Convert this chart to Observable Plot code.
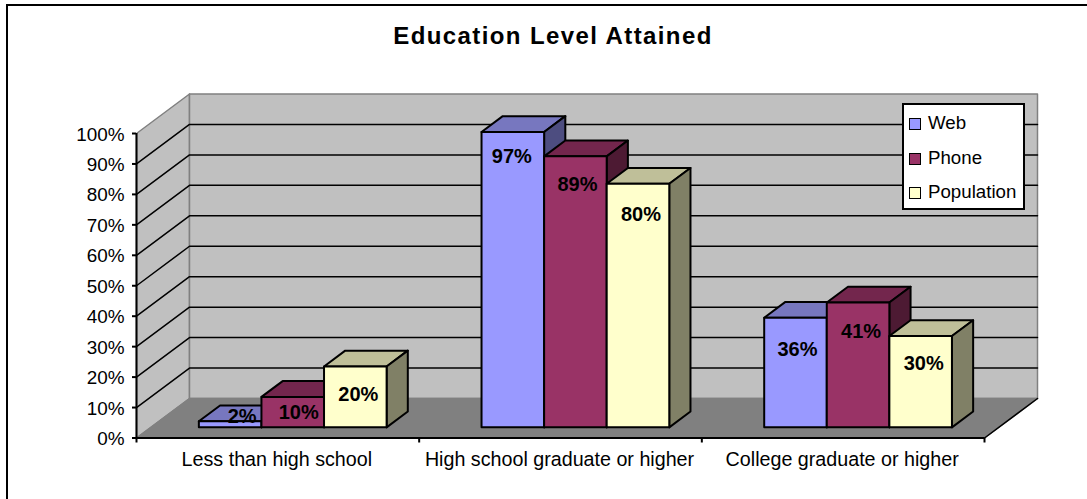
<!DOCTYPE html>
<html>
<head>
<meta charset="utf-8">
<script src="https://cdn.jsdelivr.net/npm/d3@7"></script>
<script src="https://cdn.jsdelivr.net/npm/@observablehq/plot@0.6"></script>
<style>
  html, body { margin: 0; padding: 0; background: #fff; }
  #page { position: relative; width: 1087px; height: 499px; overflow: hidden; font-family: "Liberation Sans", Arial, sans-serif; color: #000; }
  #page svg { position: absolute; left: 0; top: 0; }
  #border { position: absolute; left: 6px; top: 4px; right: 0; bottom: 0; border-left: 2px solid #000; border-top: 2px solid #000; pointer-events: none; z-index: 2; }
  #title { position: absolute; left: 6px; width: 1094px; top: 22px; text-align: center; font-weight: bold; font-size: 24px; line-height: 28px; letter-spacing: 1.4px; z-index: 2; }
  #legend { position: absolute; left: 902px; top: 103px; width: 119px; height: 103px; border: 2px solid #000; background: #fff; z-index: 1; }
  #legend .row { position: absolute; left: 5px; height: 20px; line-height: 20px; font-size: 18.7px; white-space: nowrap; }
  #legend .swatch { display: inline-block; box-sizing: border-box; width: 12px; height: 12px; border: 1.5px solid #000; margin-right: 7px; vertical-align: -1px; }
</style>
</head>
<body>
<div id="page">
  <div id="border"></div>
  <div id="title">Education Level Attained</div>
  <div id="legend"></div>
</div>
<script>
// Education level shares by survey group
const categories = ["Less than high school", "High school graduate or higher", "College graduate or higher"];
const series = ["Web", "Phone", "Population"];
const web = [2, 97, 36];
const phone = [10, 89, 41];
const population = [20, 80, 30];
const percentTicks = [0, 10, 20, 30, 40, 50, 60, 70, 80, 90, 100];

// Face colours per series
const frontColors = ["#9999FF", "#993366", "#FFFFCC"];
const topColors = ["#7777BF", "#73264D", "#BFBF99"];
const sideColors = ["#4D4D80", "#4D1A33", "#808066"];

// Oblique projection: z runs 0..1 from the front plane to the back wall
const depthX = 53 / 282.67;    // category units
const depthY = 39.5 / 3.045;   // percent units
const project = (x, y, z) => ({x: x + z * depthX, y: y + z * depthY});

const barWidth = 0.2214;
const barInset = 0.17;
const barZ0 = 0.27;
const barZ1 = 0.67;

// Per-label shift in pixels, read as [right, down] from the top centre of each bar's front face
const labelShift = [
  [[12, -5], [6, 16], [3, 28]],
  [[-1, 25], [2, 28], [3, 31]],
  [[2, 32], [3, 29], [3, 28]]
];
const pxX = 1 / 282.67, pxY = 1 / 3.045;

const faces = [];
const addFace = (face, fill, corners) => corners.forEach(([x, y, z]) => faces.push({face, fill, ...project(x, y, z)}));

const labels = [];
const values = [web, phone, population];
categories.forEach((_, c) => {
  series.forEach((_, s) => {
    const v = values[s][c];
    const x0 = c + barInset + s * barWidth;
    const x1 = x0 + barWidth;
    const id = `${c}-${s}`;
    addFace(id + "top", topColors[s], [[x0, v, barZ0], [x1, v, barZ0], [x1, v, barZ1], [x0, v, barZ1]]);
    addFace(id + "side", sideColors[s], [[x1, 0, barZ0], [x1, v, barZ0], [x1, v, barZ1], [x1, 0, barZ1]]);
    addFace(id + "front", frontColors[s], [[x0, 0, barZ0], [x1, 0, barZ0], [x1, v, barZ0], [x0, v, barZ0]]);
    const [sx, sy] = labelShift[c][s];
    const p = project((x0 + x1) / 2 + sx * pxX, v - sy * pxY, barZ0);
    labels.push({...p, text: `${v}%`});
  });
});

// Walls and floor of the plotting box
const xMax = categories.length;
const wallFaces = [];
const addWall = (face, fill, corners) => corners.forEach(([x, y, z]) => wallFaces.push({face, fill, ...project(x, y, z)}));
addWall("left", "#C0C0C0", [[0, 0, 0], [0, 100, 0], [0, 100, 1], [0, 0, 1]]);
addWall("back", "#C0C0C0", [[0, 0, 1], [0, 100, 1], [xMax, 100, 1], [xMax, 0, 1]]);
addWall("floor", "#808080", [[0, 0, 0], [0, 0, 1], [xMax, 0, 1], [xMax, 0, 0]]);

// Gridlines wrap from the front axis across the left wall and along the back wall
const gridPoints = percentTicks.filter((t) => t > 0 && t < 100).flatMap((t) => [
  {t, ...project(0, t, 0)},
  {t, ...project(0, t, 1)},
  {t, ...project(xMax, t, 1)}
]);
const floorEdge = [project(xMax, 0, 0), project(xMax, 0, 1)];

const chart = Plot.plot({
  width: 1087,
  height: 499,
  marginLeft: 136,
  marginRight: 103,
  marginTop: 133,
  marginBottom: 61.5,
  x: {domain: [0, xMax]},
  y: {domain: [0, 100]},
  color: {type: "identity"},
  style: {fontFamily: "'Liberation Sans', Arial, sans-serif", fontSize: "19px", background: "transparent", color: "#000"},
  marks: [
    Plot.line(wallFaces, {x: "x", y: "y", z: "face", fill: "fill", stroke: "#808080", strokeWidth: 1.5, curve: "linear-closed"}),
    Plot.line(gridPoints, {x: "x", y: "y", z: "t", stroke: "#000", strokeWidth: 1.5}),
    Plot.line(floorEdge, {x: "x", y: "y", stroke: "#000", strokeWidth: 1.5}),
    Plot.ruleX([0], {stroke: "#000", strokeWidth: 2}),
    Plot.ruleY([0], {stroke: "#000", strokeWidth: 2}),
    Plot.axisY({ticks: percentTicks, tickFormat: () => "", tickSize: 4, label: null, strokeWidth: 2, strokeOpacity: 1}),
    Plot.axisY({ticks: percentTicks, tickFormat: (d) => `${d}%`, tickSize: 0, tickPadding: 12, label: null, fontSize: 18.9, dy: 1}),
    Plot.axisX({ticks: d3.range(xMax + 1), tickFormat: () => "", tickSize: 5, label: null, strokeWidth: 2, strokeOpacity: 1}),
    Plot.axisX({ticks: categories.map((_, i) => i + 0.5), tickFormat: (d) => categories[Math.floor(d)], tickSize: 0, tickPadding: 14, label: null, fontSize: 19.7, dx: -1}),
    Plot.line(faces, {x: "x", y: "y", z: "face", fill: "fill", stroke: "#000", strokeWidth: 2, curve: "linear-closed"}),
    Plot.text(labels, {x: "x", y: "y", text: "text", fontWeight: "bold", fontSize: 20, fill: "#000", lineAnchor: "middle"})
  ]
});
document.getElementById("page").prepend(chart);

// Legend box built from the same series and colours
const legend = document.getElementById("legend");
series.forEach((name, i) => {
  const row = document.createElement("div");
  row.className = "row";
  row.style.top = `${8 + i * 34.5}px`;
  const swatch = document.createElement("span");
  swatch.className = "swatch";
  swatch.style.background = frontColors[i];
  row.append(swatch, name);
  legend.append(row);
});
</script>
</body>
</html>
